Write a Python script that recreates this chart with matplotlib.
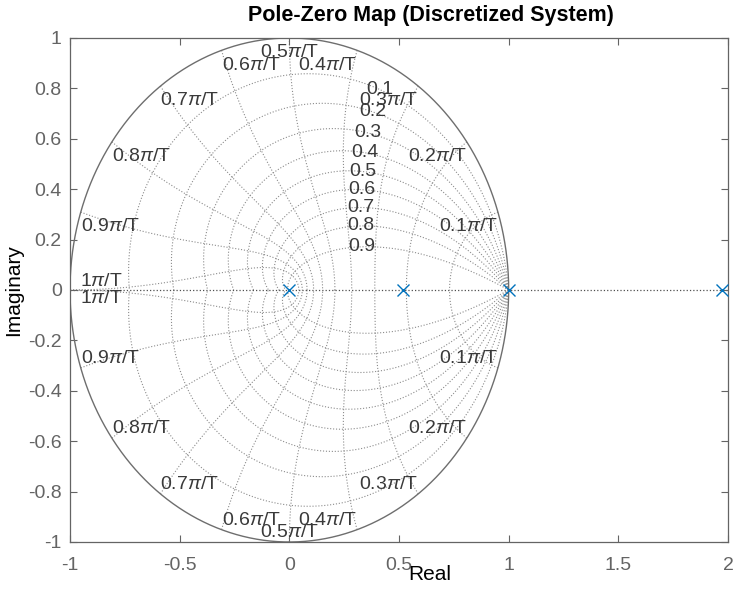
import numpy as np
import matplotlib
matplotlib.use("Agg")
import matplotlib.pyplot as plt

plt.rcParams["font.family"] = ["Liberation Sans", "DejaVu Sans"]
plt.rcParams["mathtext.fontset"] = "custom"
plt.rcParams["mathtext.rm"] = "Liberation Sans"
plt.rcParams["mathtext.it"] = "Liberation Sans:italic"

# poles of the discretized system (all on the real axis)
pole_re = [0.0, 0.518, 1.0, 1.972]
pole_im = [0.0, 0.0, 0.0, 0.0]

# zgrid: damping ratios and natural frequencies (in units of pi/T)
zeta_vals = [0.1, 0.2, 0.3, 0.4, 0.5, 0.6, 0.7, 0.8, 0.9]
wn_vals = [0.1, 0.2, 0.3, 0.4, 0.5, 0.6, 0.7, 0.8, 0.9, 1.0]
zeta_label_wn = 0.35

xticks = [-1, -0.5, 0, 0.5, 1, 1.5, 2]
yticks = [-1, -0.8, -0.6, -0.4, -0.2, 0, 0.2, 0.4, 0.6, 0.8, 1]

AX_COL = "#646464"
GRID_COL = "#8c8c8c"
LBL_COL = "#3a3a3a"

fig = plt.figure(figsize=(7.36, 5.91), dpi=100)
ax = fig.add_axes([70 / 736, 1 - 542 / 591, 658 / 736, 504 / 591])

# unit circle
th = np.linspace(0, 2 * np.pi, 600)
ax.plot(np.cos(th), np.sin(th), color="#6e6e6e", lw=1.0, zorder=2)

# constant damping curves
for z in zeta_vals:
    m = np.tan(np.arcsin(z))
    t = np.linspace(0, np.pi, 400)
    zz = np.exp(t * (-m + 1j))
    for sgn in (1, -1):
        ax.plot(zz.real, sgn * zz.imag, ls=":", color=GRID_COL, lw=0.8, zorder=1)
    w = zeta_label_wn * np.pi
    p = np.exp(w * (-z + 1j * np.sqrt(1 - z ** 2)))
    ax.text(p.real, p.imag, f"{z:g}", ha="center", va="center",
            fontsize=14, color=LBL_COL, zorder=3)

# constant natural frequency curves
zeta = np.linspace(0, 1, 300)
for wf in wn_vals:
    w = wf * np.pi
    zz = np.exp(w * (-zeta + 1j * np.sqrt(1 - zeta ** 2)))
    for sgn in (1, -1):
        ax.plot(zz.real, sgn * zz.imag, ls=":", color=GRID_COL, lw=0.8, zorder=1)
    lbl = f"{wf:g}$\\pi$/T"
    if wf < 0.5:
        ha = "right"
    elif wf == 0.5:
        ha = "center"
    else:
        ha = "left"
    for sgn in (1, -1):
        if wf == 1.0:
            va = "bottom" if sgn > 0 else "top"
            off = (7, 0)
        elif sgn > 0:
            va = "top"
            off = (0, -4.5)
        else:
            va = "bottom"
            off = (0, 0.5)
        ax.annotate(lbl, (np.cos(w), sgn * np.sin(w)), xytext=off,
                    textcoords="offset points", ha=ha, va=va,
                    fontsize=14, color=LBL_COL, zorder=3)

# real axis
ax.axhline(0, ls=":", color="#505050", lw=0.9, zorder=1)

ax.plot(pole_re, pole_im, "x", color="#0072bd", ms=9, mew=1.0, zorder=4)

ax.set_xlim(-1, 2)
ax.set_ylim(-1, 1)
ax.set_xticks(xticks)
ax.set_yticks(yticks)
ax.set_xticklabels([f"{v:g}" for v in xticks])
ax.set_yticklabels([f"{v:g}" for v in yticks])
ax.tick_params(direction="in", top=True, right=True, length=5, width=0.8,
               colors=AX_COL, labelsize=14)
ax.tick_params(axis="x", pad=10.5)
ax.tick_params(axis="y", pad=6)
for s in ax.spines.values():
    s.set_color(AX_COL)
    s.set_linewidth(0.9)

fig.text(431 / 736, 1 - 15 / 591, "Pole-Zero Map (Discretized System)",
         ha="center", va="center", fontsize=15.5, fontweight="bold")
fig.text(430 / 736, 1 - 574 / 591, "Real", ha="center", va="center", fontsize=15)
fig.text(14 / 736, 1 - 290 / 591, "Imaginary", ha="center", va="center",
         rotation=90, fontsize=15)

fig.savefig("out.png", dpi=100)
plt.close(fig)
